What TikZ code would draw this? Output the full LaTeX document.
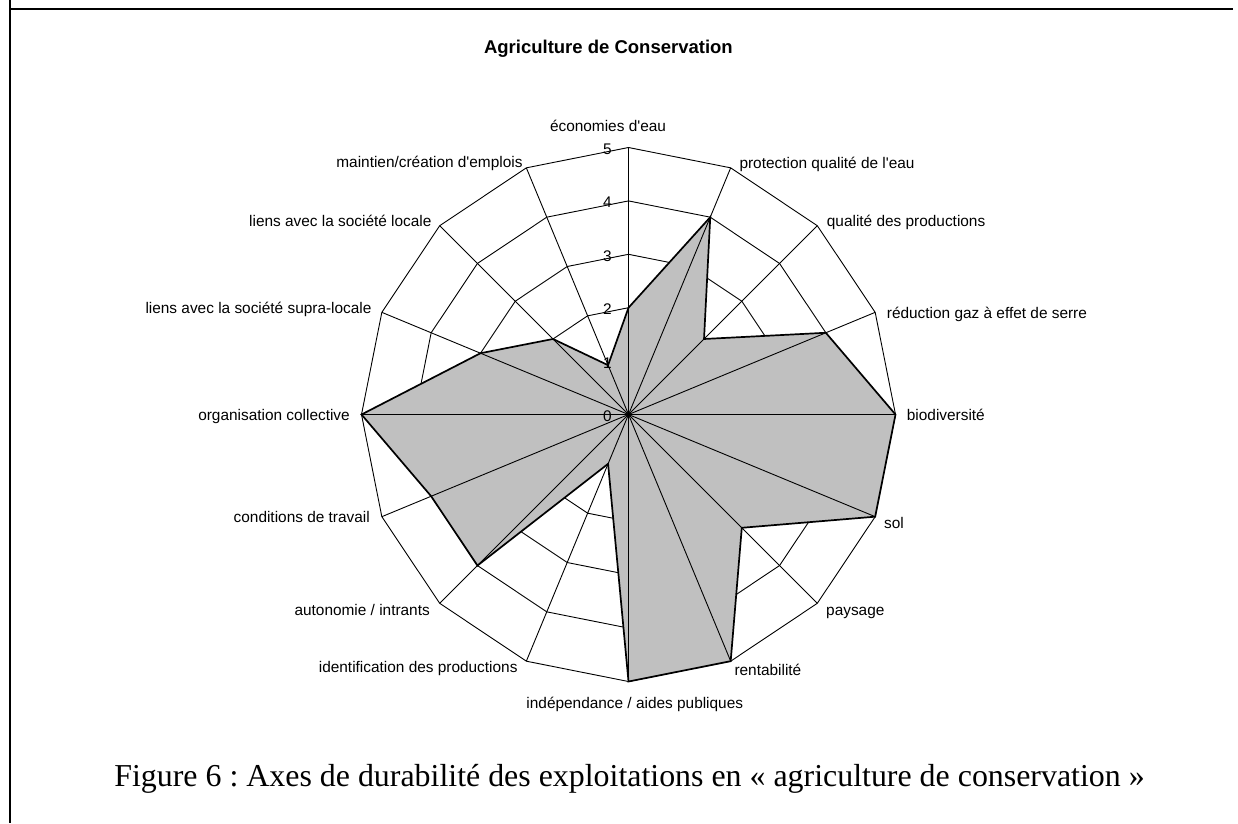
\documentclass[tikz,border=0pt]{standalone}
\usepackage{fontspec}
\setmainfont{Liberation Serif}
\newfontfamily\lab{Liberation Sans}
\frenchspacing
\begin{document}
\begin{tikzpicture}[x=1pt,y=-1pt,
  lbl/.style={font=\lab\fontsize{15.4}{18}\selectfont, inner sep=0pt},
  gridline/.style={draw=black, line width=0.9pt},
  frameline/.style={draw=black, line width=2pt},
  area/.style={fill=polyfill},
  arealine/.style={draw=black, line width=1.7pt, line join=miter}]
\definecolor{polyfill}{RGB}{192,192,192}
\useasboundingbox (0,0) rectangle (1238,823);
% frame
\draw[frameline] (10,0) -- (10,823);
\draw[frameline] (10,9) -- (1233,9);
% title
\node[lbl, font=\lab\bfseries\fontsize{18.5}{22}\selectfont, anchor=base] (title) at (608.4,53.5) {Agriculture de Conservation};
\def\u{53.4}
\begin{scope}[shift={(628.5,414.5)}]
  \coordinate (C) at (0,0);
  % rings
  \foreach \k in {1,...,5}
    \draw[gridline] (-90:\k*\u) \foreach \i in {1,...,15}{ -- (\i*22.5-90:\k*\u)} -- cycle;
  % data polygon
  \coordinate (p0) at (-90:2*\u);
  \coordinate (p1) at (-67.5:4*\u);
  \coordinate (p2) at (-45:2*\u);
  \coordinate (p3) at (-22.5:4*\u);
  \coordinate (p4) at (0:5*\u);
  \coordinate (p5) at (22.5:5*\u);
  \coordinate (p6) at (45:3*\u);
  \coordinate (p7) at (67.5:5*\u);
  \coordinate (p8) at (90:5*\u);
  \coordinate (p9) at (112.5:1*\u);
  \coordinate (p10) at (135:4*\u);
  \coordinate (p11) at (157.5:4*\u);
  \coordinate (p12) at (180:5*\u);
  \coordinate (p13) at (202.5:3*\u);
  \coordinate (p14) at (225:2*\u);
  \coordinate (p15) at (247.5:1*\u);
  \fill[area] (p0) -- (p1) -- (p2) -- (p3) -- (p4) -- (p5) -- (p6) -- (p7) -- (p8) -- (p9) -- (p10) -- (p11) -- (p12) -- (p13) -- (p14) -- (p15) -- cycle;
  % axes
  \foreach \i in {0,...,15}
    \draw[gridline] (C) -- (\i*22.5-90:5*\u);
  \draw[arealine] (p0) -- (p1) -- (p2) -- (p3) -- (p4) -- (p5) -- (p6) -- (p7) -- (p8) -- (p9) -- (p10) -- (p11) -- (p12) -- (p13) -- (p14) -- (p15) -- cycle;
\end{scope}
% scale numbers
\foreach \k in {0,...,5}
  \node[lbl, anchor=base east] (n\k) at (612,{414.5-\k*\u+7}) {\k};
% axis labels
\node[lbl, anchor=base] (a0) at (608,131.5) {économies d'eau};
\node[lbl, anchor=base west] (a1) at (739.3,168.2) {protection qualité de l'eau};
\node[lbl, anchor=base west] (a2) at (826.7,226.5) {qualité des productions};
\node[lbl, anchor=base west] (a3) at (886.7,318.8) {réduction gaz à effet de serre};
\node[lbl, anchor=base west] (a4) at (906.7,420.5) {biodiversité};
\node[lbl, anchor=base west] (a5) at (884,528) {sol};
\node[lbl, anchor=base west] (a6) at (826,615.3) {paysage};
\node[lbl, anchor=base west] (a7) at (734.3,675.8) {rentabilité};
\node[lbl, anchor=base east] (a8) at (743.3,708) {indépendance / aides publiques};
\node[lbl, anchor=base east] (a9) at (517.7,672.7) {identification des productions};
\node[lbl, anchor=base east] (a10) at (430,615.2) {autonomie / intrants};
\node[lbl, anchor=base east] (a11) at (370,522.7) {conditions de travail};
\node[lbl, anchor=base east] (a12) at (350,420.7) {organisation collective};
\node[lbl, anchor=base east] (a13) at (371.7,313.3) {liens avec la société supra-locale};
\node[lbl, anchor=base east] (a14) at (431.7,226.5) {liens avec la société locale};
\node[lbl, anchor=base east] (a15) at (522.7,167.2) {maintien/création d'emplois};
% caption
\node[inner sep=0pt, anchor=base, font=\rmfamily\fontsize{31.9}{38}\selectfont] (cap) at (629.5,786) {Figure 6 : Axes de durabilité des exploitations en « agriculture de conservation »};
\end{tikzpicture}
\end{document}
